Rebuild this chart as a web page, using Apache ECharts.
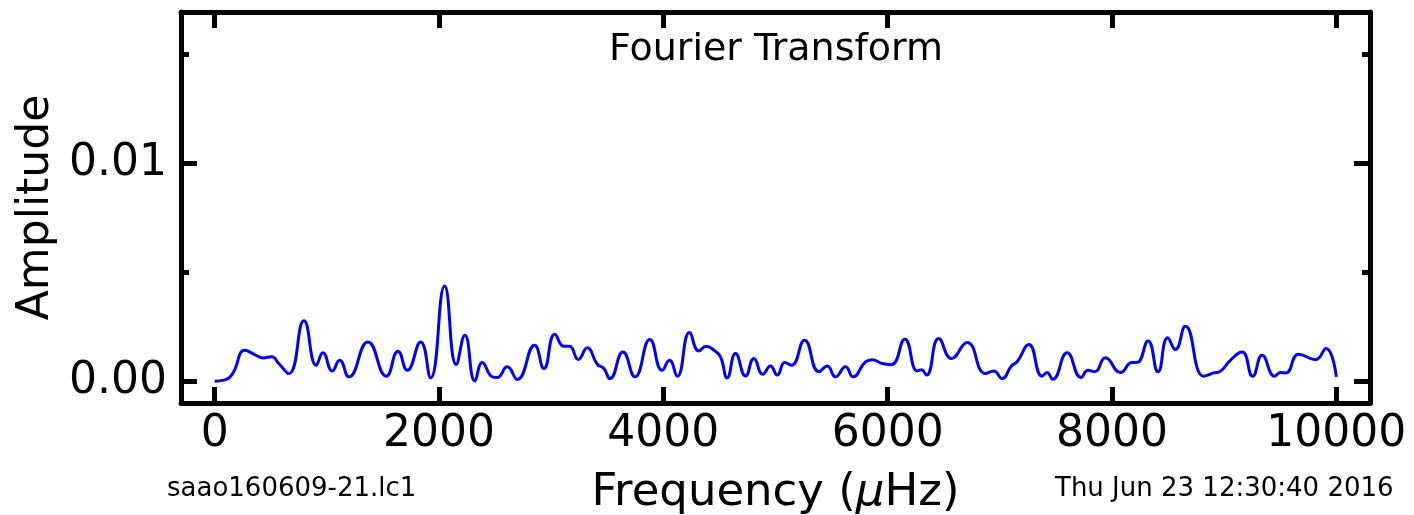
<!DOCTYPE html>
<html><head><meta charset="utf-8">
<script src="https://cdn.jsdelivr.net/npm/echarts@6/dist/echarts.min.js"></script>
<style>html,body{margin:0;padding:0;background:#fff}#c{width:1414px;height:515px}</style>
</head><body><div id="c"></div>
<script>
const freq = [0,83,160,270,365,430,508,573,662,796,906,965,1049,1114,1197,1366,1530,1634,1717,1836,1925,2050,2154,2231,2320,2386,2475,2519,2608,2698,2852,2935,3033,3113,3164,3241,3322,3411,3470,3524,3640,3747,3880,3989,4055,4124,4234,4317,4382,4459,4510,4569,4643,4733,4807,4887,4955,5015,5083,5143,5259,5387,5461,5535,5624,5692,5802,5862,5951,6034,6153,6263,6301,6346,6455,6569,6708,6872,6946,7020,7103,7154,7258,7377,7421,7471,7600,7724,7787,7846,7941,8075,8179,8223,8321,8410,8496,8565,8654,8818,8907,8966,9055,9159,9254,9338,9450,9501,9551,9664,9813,9908,10000];
const amp = [0.00000,0.00005,0.00035,0.00142,0.00120,0.00107,0.00112,0.00080,0.00035,0.00277,0.00073,0.00131,0.00047,0.00096,0.00020,0.00180,0.00023,0.00138,0.00050,0.00180,0.00015,0.00437,0.00077,0.00211,0.00001,0.00086,0.00020,0.00017,0.00066,0.00008,0.00165,0.00058,0.00216,0.00160,0.00160,0.00100,0.00153,0.00078,0.00058,0.00012,0.00134,0.00020,0.00191,0.00050,0.00096,0.00023,0.00223,0.00139,0.00160,0.00139,0.00112,0.00015,0.00127,0.00024,0.00104,0.00032,0.00070,0.00028,0.00086,0.00073,0.00188,0.00043,0.00070,0.00020,0.00066,0.00020,0.00089,0.00099,0.00081,0.00076,0.00193,0.00047,0.00053,0.00028,0.00196,0.00104,0.00178,0.00035,0.00047,0.00012,0.00070,0.00089,0.00168,0.00023,0.00040,0.00009,0.00130,0.00017,0.00050,0.00043,0.00108,0.00040,0.00086,0.00086,0.00185,0.00043,0.00199,0.00145,0.00252,0.00023,0.00038,0.00046,0.00096,0.00134,0.00023,0.00119,0.00023,0.00040,0.00038,0.00124,0.00099,0.00150,0.00020];
const xTicks = [0,2000,4000,6000,8000,10000];
const yMajorTicks = [0,0.01];
const yMinorTicks = [0.005,0.015];
const yLabels = [0,0.01];
const titleText = 'Fourier Transform';
const fileText = 'saao160609-21.lc1';
const dateText = 'Thu Jun 23 12:30:40 2016';

const FONT = 'DejaVu Sans';
const chart = echarts.init(document.getElementById('c'), null, {renderer:'canvas'});
const axisLineStyle = {color:'#000', width:5};
const tickStyle = {color:'#000', width:5};
const grid = {left:181, right:44, top:12, bottom:112, containLabel:false, outerBoundsMode:'none'};
const YMIN = -0.001, YMAX = 0.01694;
function tickOnlyY(pos, ticks, len){
  return {type:'value', min:YMIN, max:YMAX, position:pos,
    axisLine:{show:false, onZero:false},
    axisTick:{show:true, inside:true, length:len, lineStyle:tickStyle, customValues:ticks},
    axisLabel:{show:false}, splitLine:{show:false}};
}
chart.setOption({
  animation:false,
  backgroundColor:'#fff',
  graphic:[
    {type:'text', x:776, y:50, style:{text:titleText, font:'38px "DejaVu Sans"', fill:'#000', align:'center', verticalAlign:'middle'}},
    {type:'text', x:167, y:489, style:{text:fileText, font:'26px "DejaVu Sans"', fill:'#000', align:'left', verticalAlign:'middle'}},
    {type:'text', x:1055, y:489, style:{text:dateText, font:'26px "DejaVu Sans"', fill:'#000', align:'left', verticalAlign:'middle'}}
  ],
  grid:grid,
  xAxis:[{
    type:'value', min:-300, max:10300, position:'bottom',
    name:'Frequency ({i|μ}Hz)', nameLocation:'middle', nameGap:68,
    nameTextStyle:{fontFamily:FONT, fontSize:45, color:'#000', rich:{i:{fontFamily:FONT, fontSize:45, fontStyle:'italic', color:'#000'}}},
    axisLine:{show:true, onZero:false, lineStyle:axisLineStyle},
    axisTick:{show:true, inside:true, length:16, lineStyle:tickStyle, customValues:xTicks},
    axisLabel:{show:true, fontFamily:FONT, fontSize:44, color:'#000', margin:10, customValues:xTicks,
      formatter:function(v){return String(v);}},
    splitLine:{show:false}
  },{
    type:'value', min:-300, max:10300, position:'top',
    axisLine:{show:true, onZero:false, lineStyle:axisLineStyle},
    axisTick:{show:true, inside:true, length:16, lineStyle:tickStyle, customValues:xTicks},
    axisLabel:{show:false}, splitLine:{show:false}
  }],
  yAxis:[{
    type:'value', min:YMIN, max:YMAX, position:'left',
    name:'Amplitude', nameLocation:'middle', nameGap:122, nameRotate:90,
    nameTextStyle:{fontFamily:FONT, fontSize:44, color:'#000'},
    axisLine:{show:true, onZero:false, lineStyle:axisLineStyle},
    axisTick:{show:true, inside:true, length:16, lineStyle:tickStyle, customValues:yMajorTicks},
    axisLabel:{show:true, fontFamily:FONT, fontSize:44, color:'#000', margin:14, customValues:yLabels,
      formatter:function(v){return v.toFixed(2);}},
    splitLine:{show:false}
  },{
    type:'value', min:YMIN, max:YMAX, position:'right',
    axisLine:{show:true, onZero:false, lineStyle:axisLineStyle},
    axisTick:{show:true, inside:true, length:16, lineStyle:tickStyle, customValues:yMajorTicks},
    axisLabel:{show:false}, splitLine:{show:false}
  },
  tickOnlyY('left', yMinorTicks, 8),
  tickOnlyY('right', yMinorTicks, 8)
  ],
  series:[{
    type:'line', xAxisIndex:0, yAxisIndex:0,
    data:freq.map(function(f,i){return [f, amp[i]];}),
    smooth:0.5, symbol:'none',
    lineStyle:{color:'#0000ff', width:3}
  }]
});
</script>
</body></html>
